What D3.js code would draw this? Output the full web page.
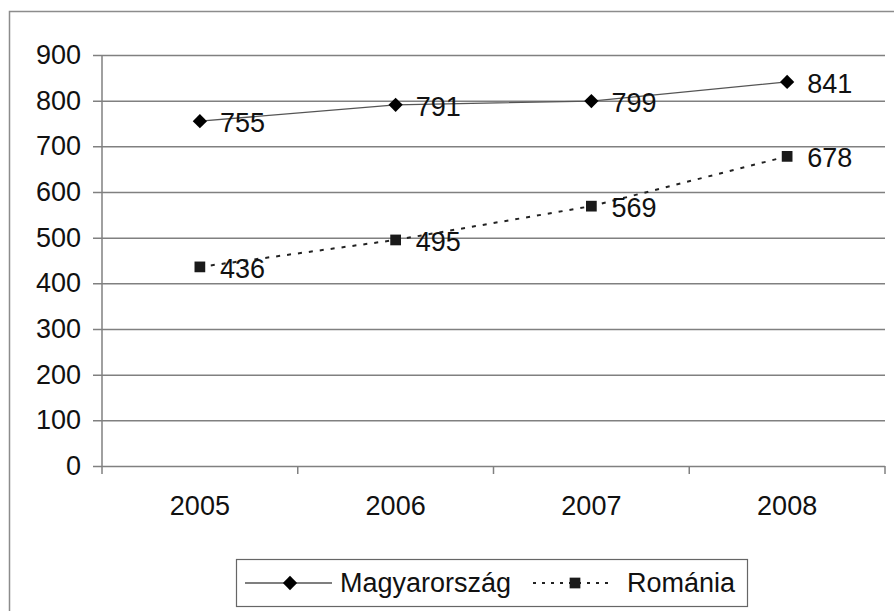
<!DOCTYPE html>
<html>
<head>
<meta charset="utf-8">
<script src="https://cdn.jsdelivr.net/npm/d3@7"></script>
<style>
  body { margin: 0; background: #fff; }
  svg { font-family: "Liberation Sans", Arial, sans-serif; }
</style>
</head>
<body>
<div id="vis"></div>
<script>
const WIDTH = 894;
const HEIGHT = 611;
const MARGIN = {left: 102, right: 9, top: 55, bottom: 145};

const years = ["2005", "2006", "2007", "2008"];
const magyar = [755, 791, 799, 841];
const romania = [436, 495, 569, 678];
const yTicks = [0, 100, 200, 300, 400, 500, 600, 700, 800, 900];

const FONT = "27px";

const FRAME = d3.select("#vis")
  .append("svg")
    .attr("width", WIDTH)
    .attr("height", HEIGHT);

// outer chart border (cut off at right and bottom like the reference)
FRAME.append("rect")
  .attr("x", 9.5).attr("y", 11.5)
  .attr("width", WIDTH).attr("height", HEIGHT)
  .attr("fill", "none")
  .attr("stroke", "#8c8c8c")
  .attr("stroke-width", 1.5);

const X_SCALE = d3.scaleBand()
  .domain(years)
  .range([MARGIN.left, WIDTH - MARGIN.right]);

const Y_SCALE = d3.scaleLinear()
  .domain([0, 900])
  .range([HEIGHT - MARGIN.bottom, MARGIN.top]);

// gridlines + y axis
const yAxis = FRAME.append("g")
  .attr("transform", "translate(" + MARGIN.left + ",0)")
  .call(d3.axisLeft(Y_SCALE).tickValues(yTicks)
          .tickSize(-(WIDTH - MARGIN.right - MARGIN.left))
          .tickPadding(21));
yAxis.select(".domain").remove();
yAxis.selectAll(".tick line")
  .attr("x1", -9)
  .attr("stroke", "#808080")
  .attr("stroke-width", 1.5);
yAxis.selectAll(".tick text")
  .attr("font-size", FONT)
  .attr("fill", "#111");

// vertical axis line
FRAME.append("line")
  .attr("x1", MARGIN.left).attr("x2", MARGIN.left)
  .attr("y1", Y_SCALE(900)).attr("y2", Y_SCALE(0) + 8)
  .attr("stroke", "#808080").attr("stroke-width", 1.5);

// x axis ticks at band boundaries
const xAxis = FRAME.append("g")
  .attr("transform", "translate(0," + Y_SCALE(0) + ")")
  .call(d3.axisBottom(X_SCALE).tickSize(0).tickPadding(30));
xAxis.select(".domain").remove();
xAxis.selectAll(".tick text")
  .attr("font-size", FONT)
  .attr("fill", "#111");
xAxis.selectAll(".sep")
  .data(years)
  .enter()
  .append("line")
    .attr("x1", (d) => X_SCALE(d) + X_SCALE.bandwidth())
    .attr("x2", (d) => X_SCALE(d) + X_SCALE.bandwidth())
    .attr("y1", 0).attr("y2", 8)
    .attr("stroke", "#808080").attr("stroke-width", 1.5);

const cx = (d, i) => X_SCALE(years[i]) + X_SCALE.bandwidth() / 2;

const line = d3.line()
  .x((d, i) => cx(d, i))
  .y((d) => Y_SCALE(d));

// Magyarország
FRAME.append("path")
  .datum(magyar)
  .attr("d", line)
  .attr("fill", "none")
  .attr("stroke", "#555")
  .attr("stroke-width", 1.3);

// Románia
FRAME.append("path")
  .datum(romania)
  .attr("d", line)
  .attr("fill", "none")
  .attr("stroke", "#222")
  .attr("stroke-width", 2)
  .attr("stroke-dasharray", "4,7");

const diamond = d3.symbol().type(d3.symbolDiamond2).size(130);
const square = d3.symbol().type(d3.symbolSquare).size(115);

FRAME.selectAll(".mpt")
  .data(magyar)
  .enter()
  .append("path")
    .attr("d", diamond)
    .attr("transform", (d, i) => "translate(" + cx(d, i) + "," + Y_SCALE(d) + ")")
    .attr("fill", "#000");

FRAME.selectAll(".rpt")
  .data(romania)
  .enter()
  .append("path")
    .attr("d", square)
    .attr("transform", (d, i) => "translate(" + cx(d, i) + "," + Y_SCALE(d) + ")")
    .attr("fill", "#1a1a1a");

// value labels
function labels(data) {
  FRAME.selectAll(null)
    .data(data)
    .enter()
    .append("text")
      .attr("x", (d, i) => cx(d, i) + 20)
      .attr("y", (d) => Y_SCALE(d) + 11)
      .attr("font-size", FONT)
      .attr("fill", "#111")
      .text((d) => d);
}
labels(magyar);
labels(romania);

// legend
const LEG = FRAME.append("g");
LEG.append("rect")
  .attr("x", 236.5).attr("y", 559.5)
  .attr("width", 511).attr("height", 47)
  .attr("fill", "#fff")
  .attr("stroke", "#666").attr("stroke-width", 1.2);

LEG.append("line")
  .attr("x1", 245).attr("x2", 332).attr("y1", 583).attr("y2", 583)
  .attr("stroke", "#555").attr("stroke-width", 1.3);
LEG.append("path")
  .attr("d", diamond)
  .attr("transform", "translate(290,583)");
LEG.append("text")
  .attr("x", 340).attr("y", 592)
  .attr("font-size", FONT).attr("fill", "#111")
  .text("Magyarország");

LEG.append("line")
  .attr("x1", 533).attr("x2", 614).attr("y1", 583).attr("y2", 583)
  .attr("stroke", "#222").attr("stroke-width", 2)
  .attr("stroke-dasharray", "3,6");
LEG.append("path")
  .attr("d", square)
  .attr("transform", "translate(575,583)")
  .attr("fill", "#1a1a1a");
LEG.append("text")
  .attr("x", 627).attr("y", 592)
  .attr("font-size", FONT).attr("fill", "#111")
  .text("Románia");
</script>
</body>
</html>
